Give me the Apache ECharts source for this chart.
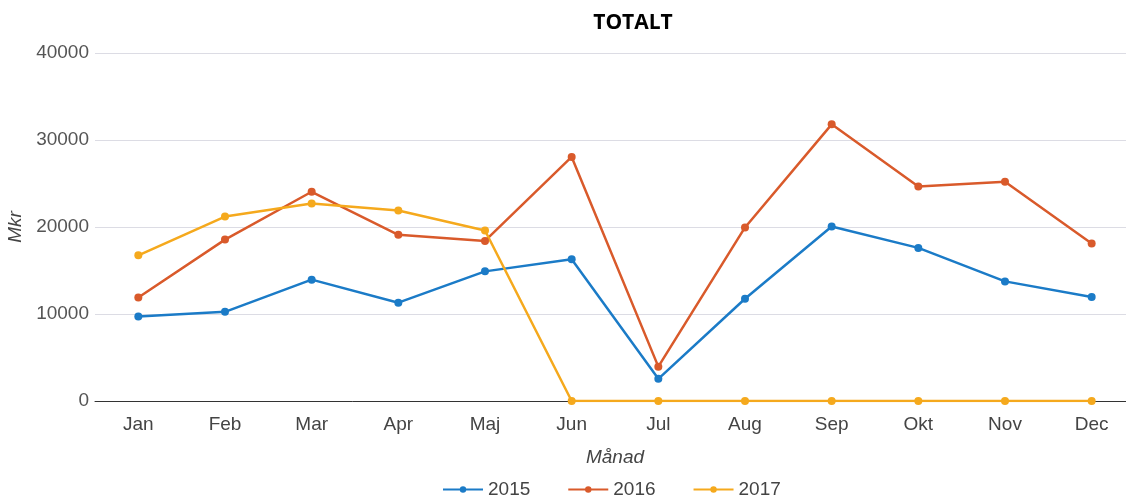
<!DOCTYPE html>
<html>
<head>
<meta charset="utf-8">
<script src="https://cdn.jsdelivr.net/npm/echarts@6/dist/echarts.min.js"></script>
<style>
  html, body { margin: 0; padding: 0; background: #fff; }
  #main { width: 1126px; height: 498px; }
</style>
</head>
<body>
<div id="main"></div>
<script>
// månader och värden (Mkr)
var months = ['Jan', 'Feb', 'Mar', 'Apr', 'Maj', 'Jun', 'Jul', 'Aug', 'Sep', 'Okt', 'Nov', 'Dec'];
var years = ['2015', '2016', '2017'];
var v2015 = [9700, 10250, 13950, 11300, 14900, 16300, 2550, 11750, 20050, 17600, 13750, 11950];
var v2016 = [11900, 18550, 24050, 19100, 18400, 28050, 3950, 19950, 31800, 24650, 25200, 18100];
var v2017 = [16750, 21200, 22700, 21900, 19600, 0, 0, 0, 0, 0, 0, 0];
var colors = ['#1b7bc7', '#d95a2b', '#f5a91d'];

var myChart = echarts.init(document.getElementById('main'));

function line(name, data, color) {
  return {
    name: name,
    type: 'line',
    data: data,
    symbol: 'circle',
    symbolSize: 8,
    lineStyle: { width: 2.5, color: color },
    itemStyle: { color: color },
    animation: false
  };
}

var option = {
  title: {
    text: 'TOTALT',
    left: 628,
    top: 8,
    textAlign: 'center',
    textStyle: { fontFamily: 'Open Sans', fontWeight: 'bold', fontSize: 21, color: '#000' }
  },
  legend: {
    data: years,
    top: 475,
    left: 437,
    itemWidth: 40,
    itemHeight: 8,
    itemGap: 37,
    textStyle: { fontFamily: 'Liberation Sans', fontSize: 19, color: '#444' }
  },
  grid: { left: 95, right: -9, top: 53, bottom: 97, outerBoundsMode: 'none' },
  xAxis: {
    type: 'category',
    data: months,
    name: 'Månad',
    nameLocation: 'middle',
    nameGap: 47,
    nameTextStyle: { fontFamily: 'Liberation Sans', fontSize: 19, fontStyle: 'italic', color: '#444' },
    axisTick: { show: false },
    axisLine: { lineStyle: { color: '#333', width: 1 } },
    axisLabel: { fontFamily: 'Liberation Sans', fontSize: 19, color: '#444', margin: 14 }
  },
  yAxis: {
    type: 'value',
    min: 0,
    max: 40000,
    interval: 10000,
    name: 'Mkr',
    nameLocation: 'middle',
    nameGap: 70,
    nameTextStyle: { fontFamily: 'Liberation Sans', fontSize: 19, fontStyle: 'italic', color: '#444' },
    axisLine: { show: false },
    axisTick: { show: false },
    axisLabel: {
      fontFamily: 'Liberation Sans', fontSize: 19, color: '#555', margin: 6,
      formatter: function (v) { return String(v); }
    },
    splitLine: { lineStyle: { color: '#dcdce4', width: 1 } }
  },
  series: [
    line(years[0], v2015, colors[0]),
    line(years[1], v2016, colors[1]),
    line(years[2], v2017, colors[2])
  ]
};

myChart.setOption(option);
</script>
</body>
</html>
